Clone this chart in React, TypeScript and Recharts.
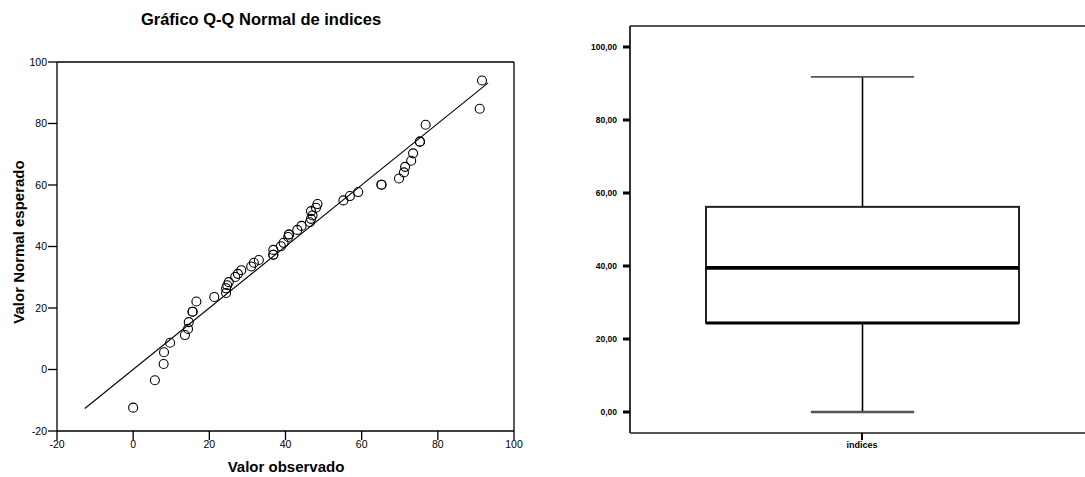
import React from 'react';
import {
  ScatterChart,
  Scatter,
  XAxis,
  YAxis,
  ReferenceLine,
  ComposedChart,
  Bar,
} from 'recharts';

// Q-Q plot: observed values against expected normal values
const observed = [
  0, 5.7, 8.0, 8.1, 9.7, 13.6, 14.4, 14.6, 15.6, 15.6, 16.6, 21.3, 24.4, 24.4, 24.7,
  25.1, 26.8, 27.5, 28.4, 31.0, 31.7, 33.0, 36.8, 36.8, 36.8, 38.8, 39.5, 40.7, 40.9,
  40.9, 43.1, 44.2, 46.4, 46.7, 47.1, 46.7, 48.0, 48.4, 55.2, 56.9, 59.1, 65.2, 65.2,
  69.8, 71.1, 71.4, 73.0, 73.5, 75.3, 75.3, 76.8, 91.0, 91.6,
];
const expected = [
  -12.4, -3.5, 1.8, 5.6, 8.7, 11.2, 13.2, 15.4, 18.8, 18.8, 22.1, 23.6, 24.9, 26.4, 27.4,
  28.4, 30.1, 31.1, 32.3, 33.5, 34.7, 35.6, 37.3, 37.3, 38.9, 40.1, 41.2, 43.1, 43.9,
  43.9, 45.4, 46.7, 47.9, 49.0, 50.1, 51.5, 52.6, 53.8, 55.0, 56.4, 57.7, 60.1, 60.1,
  62.1, 64.1, 65.9, 67.9, 70.3, 74.1, 74.1, 79.6, 84.8, 94.0,
];
const qqTicks = [-20, 0, 20, 40, 60, 80, 100];
const lineStart = -12.7;
const lineEnd = 93.2;

// box plot summary for "indices"
const boxCategory = 'indices';
const boxMin = 0;
const boxQ1 = 24.4;
const boxMedian = 39.5;
const boxQ3 = 56.2;
const boxMax = 91.8;
const boxTicks = [0, 20, 40, 60, 80, 100];

const font = '"Liberation Sans", Arial, sans-serif';

const qqData = observed.map((x, i) => ({ x, y: expected[i] }));

const boxData = [
  {
    name: boxCategory,
    base: boxMin,
    lowWhisker: boxQ1 - boxMin,
    lowBox: boxMedian - boxQ1,
    highBox: boxQ3 - boxMedian,
    highWhisker: boxMax - boxQ3,
  },
];

const Ring = (props: any) => {
  const { cx, cy } = props;
  if (cx == null || cy == null) return null;
  return <circle cx={cx} cy={cy} r={4.5} fill="none" stroke="#000" strokeWidth={1.1} />;
};

const LowWhisker = (props: any) => {
  const { x, y, width, height } = props;
  const cx = x + width / 2;
  const cap = width * 0.165;
  return (
    <g>
      <line x1={cx} y1={y} x2={cx} y2={y + height} stroke="#000" strokeWidth={1.6} />
      <line x1={cx - cap} y1={y + height} x2={cx + cap} y2={y + height} stroke="#555" strokeWidth={2.5} />
    </g>
  );
};

const HighWhisker = (props: any) => {
  const { x, y, width, height } = props;
  const cx = x + width / 2;
  const cap = width * 0.165;
  return (
    <g>
      <line x1={cx} y1={y} x2={cx} y2={y + height} stroke="#000" strokeWidth={1.6} />
      <line x1={cx - cap} y1={y} x2={cx + cap} y2={y} stroke="#555" strokeWidth={1.8} />
    </g>
  );
};

const LowBox = (props: any) => {
  const { x, y, width, height } = props;
  return (
    <g>
      <rect x={x} y={y} width={width} height={height} fill="#fff" stroke="#222" strokeWidth={2} />
      <line x1={x} y1={y + height} x2={x + width} y2={y + height} stroke="#000" strokeWidth={3} />
      <line x1={x} y1={y} x2={x + width} y2={y} stroke="#000" strokeWidth={3.5} />
    </g>
  );
};

const HighBox = (props: any) => {
  const { x, y, width, height } = props;
  return (
    <g>
      <rect x={x} y={y} width={width} height={height} fill="#fff" stroke="#222" strokeWidth={2} />
      <line x1={x} y1={y + height} x2={x + width} y2={y + height} stroke="#000" strokeWidth={3.5} />
    </g>
  );
};

const fmt = (v: number) => v.toFixed(2).replace('.', ',');

export default function App() {
  return (
    <div
      style={{
        position: 'absolute',
        left: 0,
        top: 0,
        width: 1085,
        height: 477,
        overflow: 'hidden',
        background: '#fff',
        fontFamily: font,
      }}
    >
      <div
        style={{
          position: 'absolute',
          left: 111,
          top: 10,
          width: 300,
          textAlign: 'center',
          fontWeight: 'bold',
          fontSize: 16.5,
          color: '#000',
        }}
      >
        Gráfico Q-Q Normal de indices
      </div>
      <div
        style={{
          position: 'absolute',
          left: 186,
          top: 458,
          width: 200,
          textAlign: 'center',
          fontWeight: 'bold',
          fontSize: 15,
        }}
      >
        Valor observado
      </div>
      <div
        style={{
          position: 'absolute',
          left: 18,
          top: 242,
          transform: 'translate(-50%, -50%) rotate(-90deg)',
          whiteSpace: 'nowrap',
          fontWeight: 'bold',
          fontSize: 15,
        }}
      >
        Valor Normal esperado
      </div>

      <div style={{ position: 'absolute', left: 0, top: 0 }}>
        <ScatterChart width={540} height={477} margin={{ top: 62, right: 26, bottom: 0, left: 0 }}>
          <XAxis
            type="number"
            dataKey="x"
            domain={[-20, 100]}
            ticks={qqTicks}
            height={46}
            tickSize={9}
            tickMargin={1}
            axisLine={{ stroke: '#000', strokeWidth: 1.3 }}
            tickLine={{ stroke: '#000', strokeWidth: 1.3 }}
            tick={{ fill: '#000', fontSize: 10.5, fontFamily: font }}
          />
          <YAxis
            type="number"
            dataKey="y"
            domain={[-20, 100]}
            ticks={qqTicks}
            width={57}
            tickSize={9}
            tickMargin={1}
            axisLine={{ stroke: '#000', strokeWidth: 1.3 }}
            tickLine={{ stroke: '#000', strokeWidth: 1.3 }}
            tick={{ fill: '#000', fontSize: 10.5, fontFamily: font }}
          />
          <ReferenceLine y={100} stroke="#000" strokeWidth={1.3} />
          <ReferenceLine x={100} stroke="#000" strokeWidth={1.3} />
          <ReferenceLine
            segment={[
              { x: lineStart, y: lineStart },
              { x: lineEnd, y: lineEnd },
            ]}
            stroke="#000"
            strokeWidth={1.1}
          />
          <Scatter data={qqData} shape={Ring} isAnimationActive={false} />
        </ScatterChart>
      </div>

      <div style={{ position: 'absolute', left: 560, top: 0 }}>
        <ComposedChart
          width={540}
          height={477}
          data={boxData}
          margin={{ top: 26, right: 6, bottom: 0, left: 0 }}
        >
          <XAxis
            dataKey="name"
            height={44}
            tickSize={7}
            tickMargin={2}
            axisLine={{ stroke: '#555', strokeWidth: 2 }}
            tickLine={{ stroke: '#000', strokeWidth: 2 }}
            tick={{ fill: '#000', fontSize: 9, fontWeight: 'bold', fontFamily: font }}
          />
          <YAxis
            type="number"
            domain={[-5.75, 105.75]}
            ticks={boxTicks}
            width={70}
            tickSize={7}
            tickMargin={6}
            tickFormatter={fmt}
            axisLine={{ stroke: '#333', strokeWidth: 2 }}
            tickLine={{ stroke: '#000', strokeWidth: 3 }}
            tick={{ fill: '#000', fontSize: 8.5, fontWeight: 'bold', fontFamily: font }}
          />
          <ReferenceLine y={105.75} stroke="#555" strokeWidth={2} />
          <Bar dataKey="base" stackId="box" fill="none" barSize={313} isAnimationActive={false} />
          <Bar dataKey="lowWhisker" stackId="box" shape={LowWhisker} barSize={313} isAnimationActive={false} />
          <Bar dataKey="lowBox" stackId="box" shape={LowBox} barSize={313} isAnimationActive={false} />
          <Bar dataKey="highBox" stackId="box" shape={HighBox} barSize={313} isAnimationActive={false} />
          <Bar dataKey="highWhisker" stackId="box" shape={HighWhisker} barSize={313} isAnimationActive={false} />
        </ComposedChart>
      </div>
    </div>
  );
}
